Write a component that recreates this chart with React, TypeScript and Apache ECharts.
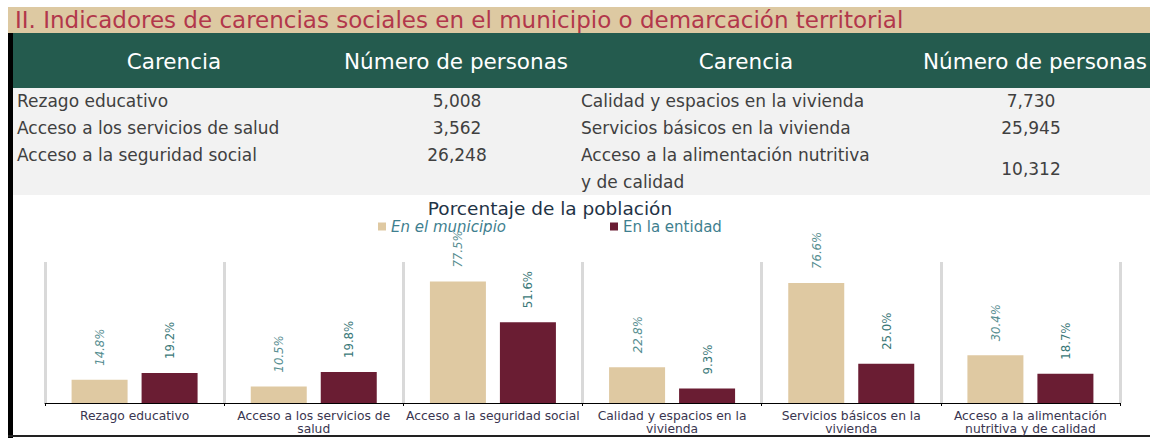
import React, { useEffect, useRef } from "react";
import * as echarts from "echarts";

const pageTitle = "II. Indicadores de carencias sociales en el municipio o demarcación territorial";
const headerLabels = ["Carencia", "Número de personas", "Carencia", "Número de personas"];
const carenciasLeft = ["Rezago educativo", "Acceso a los servicios de salud", "Acceso a la seguridad social"];
const personasLeft = ["5,008", "3,562", "26,248"];
const carenciasRight = ["Calidad y espacios en la vivienda", "Servicios básicos en la vivienda", "Acceso a la alimentación nutritiva\ny de calidad"];
const personasRight = ["7,730", "25,945", "10,312"];

const chartTitle = "Porcentaje de la población";
const seriesNames = ["En el municipio", "En la entidad"];
const categories = [
  "Rezago educativo",
  "Acceso a los servicios de\nsalud",
  "Acceso a la seguridad social",
  "Calidad y espacios en la\nvivienda",
  "Servicios básicos en la\nvivienda",
  "Acceso a la alimentación\nnutritiva y de calidad",
];
const municipio = [14.8, 10.5, 77.5, 22.8, 76.6, 30.4];
const entidad = [19.2, 19.8, 51.6, 9.3, 25.0, 18.7];

const FONT = "DejaVu Sans";
const NARROW = "'Liberation Sans Narrow', 'DejaVu Sans Condensed', Roboto, sans-serif";

export default function App() {
  const ref = useRef<HTMLDivElement>(null);
  useEffect(() => {
    if (!ref.current) return;
    const chart = echarts.init(ref.current, undefined, { renderer: "svg" });

    const rowY = [101, 128, 155];
    const graphics: any[] = [
      { type: "rect", shape: { x: 8, y: 7, width: 1142, height: 26 }, style: { fill: "#ddc9a2" }, silent: true },
      { type: "text", x: 15, y: 20, style: { text: pageTitle, fill: "#b2374b", font: `23px ${FONT}`, textVerticalAlign: "middle" } },
      { type: "rect", shape: { x: 8, y: 33, width: 5, height: 405 }, style: { fill: "#000" } },
      { type: "rect", shape: { x: 13, y: 33, width: 1137, height: 55 }, style: { fill: "#245b4e" } },
      { type: "rect", shape: { x: 13, y: 88, width: 1137, height: 107 }, style: { fill: "#f2f2f2" } },
      { type: "rect", shape: { x: 8, y: 435, width: 1142, height: 2 }, style: { fill: "#222" } },
    ];
    const headerX = [174, 456, 746, 1035];
    headerLabels.forEach((t, i) => {
      graphics.push({ type: "text", x: headerX[i], y: 61, style: { text: t, fill: "#fff", font: `21.5px ${FONT}`, textAlign: "center", textVerticalAlign: "middle" } });
    });
    const rowFont = `17px ${FONT}`;
    carenciasLeft.forEach((t, i) => {
      graphics.push({ type: "text", x: 17, y: rowY[i], style: { text: t, fill: "#404040", font: rowFont, textVerticalAlign: "middle" } });
      graphics.push({ type: "text", x: 457, y: rowY[i], style: { text: personasLeft[i], fill: "#404040", font: rowFont, textAlign: "center", textVerticalAlign: "middle" } });
    });
    carenciasRight.forEach((t, i) => {
      const multi = t.includes("\n");
      const y = multi ? rowY[i] + 13.5 : rowY[i];
      graphics.push({ type: "text", x: 581, y, style: { text: t, fill: "#404040", font: rowFont, lineHeight: 27, textVerticalAlign: "middle" } });
      graphics.push({ type: "text", x: 1031, y, style: { text: personasRight[i], fill: "#404040", font: rowFont, textAlign: "center", textVerticalAlign: "middle" } });
    });
    graphics.push({ type: "text", x: 550, y: 208, style: { text: chartTitle, fill: "#1f3346", font: `18.5px ${FONT}`, textAlign: "center", textVerticalAlign: "middle" } });

    const labelBase = {
      show: true,
      position: "top",
      rotate: 90,
      align: "left",
      verticalAlign: "middle",
      distance: 14,
      fontFamily: NARROW,
      fontSize: 13,
      formatter: (p: any) => Number(p.value).toFixed(1) + "%",
    };

    chart.setOption({
      animation: false,
      backgroundColor: "transparent",
      graphic: graphics,
      legend: {
        left: 378,
        top: 219,
        padding: 0,
        icon: "rect",
        itemWidth: 8,
        itemHeight: 8,
        itemGap: 104,
        textStyle: { color: "#3f7f8f", fontSize: 15, fontFamily: FONT },
        data: [
          { name: seriesNames[0], textStyle: { fontStyle: "italic" } },
          { name: seriesNames[1] },
        ],
      },
      grid: { left: 45, right: 30, top: 262, bottom: 35 },
      xAxis: {
        type: "category",
        data: categories,
        axisLine: { lineStyle: { color: "#000", width: 1 } },
        axisTick: { show: true, length: 3, lineStyle: { color: "#000" } },
        splitLine: { show: true, lineStyle: { color: "#d9d9d9", width: 3 } },
        axisLabel: { interval: 0, color: "#3a3650", fontSize: 12.3, lineHeight: 13, margin: 6, fontFamily: FONT },
      },
      yAxis: { type: "value", min: 0, max: 90, show: false },
      series: [
        {
          name: seriesNames[0],
          type: "bar",
          data: municipio,
          barWidth: 56,
          barGap: "25%",
          itemStyle: { color: "#dfc9a2" },
          label: { ...labelBase, color: "#558d90", fontStyle: "italic" },
        },
        {
          name: seriesNames[1],
          type: "bar",
          data: entidad,
          barWidth: 56,
          itemStyle: { color: "#6a1d33" },
          label: { ...labelBase, color: "#3a7878" },
        },
      ],
    });
    return () => chart.dispose();
  }, []);
  return <div ref={ref} style={{ position: "fixed", left: 0, top: 0, width: 1150, height: 438, background: "#fff" }} />;
}
